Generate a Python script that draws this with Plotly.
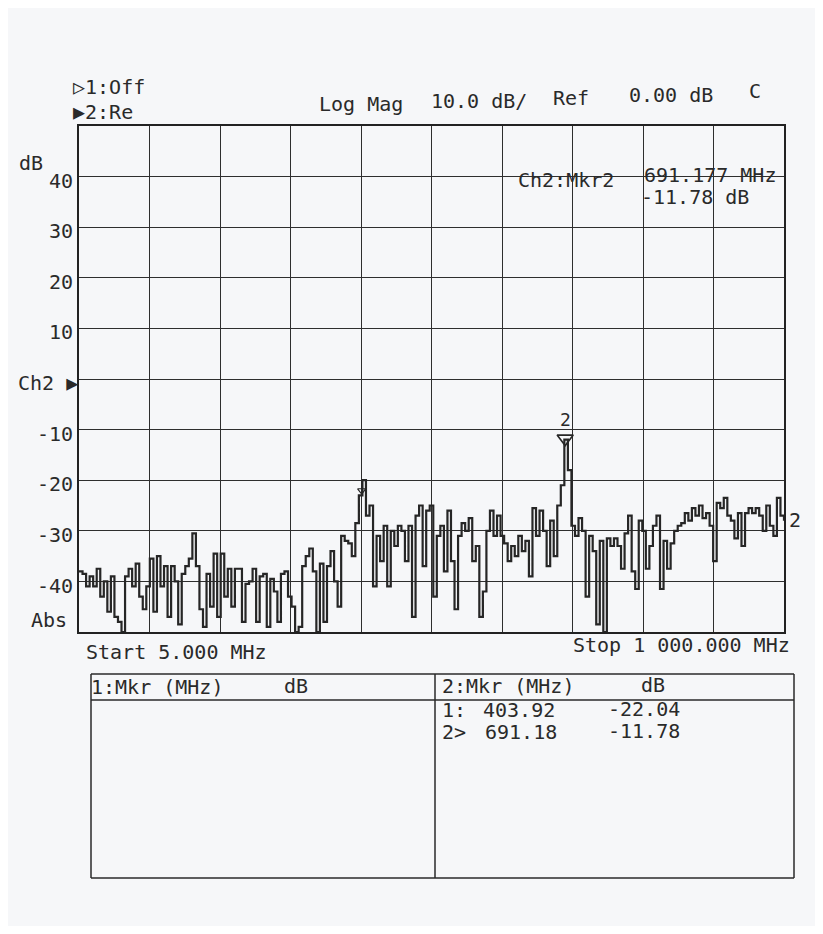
import numpy as np
import plotly.graph_objects as go

# ---------------- data ----------------
start_mhz = 5.0
stop_mhz = 1000.0
step_mhz = 5.0
freq_mhz = np.arange(start_mhz, stop_mhz + 0.1, step_mhz)

# trace values (dB), one list per grid division
div1 = [-38, -38.5, -41, -39, -41, -37.5, -43, -40, -46, -39, -47, -48, -50, -39, -37.5, -41, -36.5, -43, -45.5, -41]
div2 = [-35.5, -46, -35, -41, -37, -47, -37, -40, -48.5, -38.5, -37, -35.5, -30.5, -37, -45.5, -49, -38.5, -45, -34.5, -47]
div3 = [-34.5, -43, -37.5, -45, -37.5, -37.5, -48, -40.5, -40, -37.5, -48, -39, -38.5, -49, -39.5, -42, -48, -38.5, -38, -43]
div4 = [-45, -50, -49, -37, -35, -33.5, -38, -50, -36.5, -48, -37, -34, -40, -45, -31, -32, -32.5, -35, -28.5, -23]
div5 = [-20, -27, -25, -41, -31, -36, -29, -41, -30, -33, -29, -30, -36, -29, -47, -27, -25, -37, -26, -25]
div6 = [-43, -31, -29, -38, -26, -36, -45.5, -31, -28.5, -30, -27.5, -36, -33, -47, -42, -30, -26, -31, -27, -31]
div7 = [-32.5, -36, -33, -35, -31, -34, -32, -39, -25.5, -31, -26, -30, -37, -28, -35, -25, -21, -12, -18, -29]
div8 = [-31, -27.5, -30, -43, -31, -34, -48.5, -32, -50, -31.5, -33, -31.5, -33, -37.5, -30.5, -27, -38, -41.5, -28, -30]
div9 = [-37.5, -33, -29, -27, -41.5, -32, -37.5, -32.5, -30, -29, -28.5, -26.5, -28, -25.5, -27, -25, -27.5, -26.5, -29, -36]
div10 = [-24.5, -25.5, -23.5, -27, -28, -31.5, -26.5, -33, -26.5, -25.5, -26.5, -25.5, -27, -30, -25, -29, -31, -23.5, -27, -28]
trace_db = div1 + div2 + div3 + div4 + div5 + div6 + div7 + div8 + div9 + div10
freq_mhz = freq_mhz[:len(trace_db)]

marker_freq = [403.92, 691.18]
marker_db = [-22.04, -11.78]
marker_names = ["1", "2"]

y_tick_vals = [40, 30, 20, 10, -10, -20, -30, -40]
y_tick_text = ["40", "30", "20", "10", "-10", "-20", "-30", "-40"]

# ---------------- layout helpers ----------------
# the page adds an 8 px body margin: screen pixel (x, y) -> figure pixel (x-8, y-8)
OFF = 8
W, H = 823 - 2 * OFF, 934 - 2 * OFF
L, R, T, B = 79, 784, 126, 632          # plot area in screen pixels
INK = "#2a2a2a"
FONT = "DejaVu Sans Mono"
PAPER = "#f6f7f9"


def px(x, y):
    return (x - L) / (R - L), (B - y) / (B - T)


annotations = []


def text(x, y, s, anchor="left", size=20):
    xp, yp = px(x, y)
    annotations.append(dict(
        x=xp, y=yp, xref="paper", yref="paper", text=s, showarrow=False,
        xanchor=anchor, yanchor="middle", borderpad=0,
        font=dict(family=FONT, size=size, color=INK),
    ))


fig = go.Figure()

fig.add_trace(go.Scatter(
    x=freq_mhz, y=trace_db, mode="lines",
    line=dict(color="#262626", width=2.2, shape="hv"), hoverinfo="skip", showlegend=False,
))

# marker 2 (active) and marker 1
fig.add_trace(go.Scatter(
    x=[marker_freq[1]], y=[marker_db[1]], mode="markers",
    marker=dict(symbol="triangle-down-open", size=14, color="#262626", line=dict(width=1.6, color="#262626")),
    hoverinfo="skip", showlegend=False,
))
fig.add_trace(go.Scatter(
    x=[marker_freq[0]], y=[marker_db[0]], mode="markers",
    marker=dict(symbol="triangle-down-open", size=7, color="#262626", line=dict(width=1.2, color="#262626")),
    hoverinfo="skip", showlegend=False,
))
annotations.append(dict(
    x=marker_freq[1], y=marker_db[1], xref="x", yref="y", text=marker_names[1],
    showarrow=False, yanchor="bottom", yshift=8, borderpad=0,
    font=dict(family=FONT, size=18, color=INK),
))

# header texts
text(72, 87, "▷1:Off")
text(72, 112, "▶2:Re")
text(318, 104, "Log Mag")
text(430, 101, "10.0 dB/")
text(552, 98, "Ref")
text(628, 95, "0.00 dB")
text(748, 91, "C")

# y labels
text(18, 163, "dB")
label_y_px = {40: 181, 30: 231, 20: 282, 10: 332, -10: 434, -20: 484, -30: 535, -40: 586}
for v, s in zip(y_tick_vals, y_tick_text):
    text(74, label_y_px[v], s, anchor="right")
text(79, 383, "Ch2 ▶", anchor="right")
text(68, 620, "Abs", anchor="right")

# marker readout
text(517, 180, "Ch2:Mkr2")
text(643, 175, "691.177 MHz")
text(640, 197, "-11.78 dB")

# trace end label
text(788, 520, "2")

# start / stop
text(85, 652, "Start 5.000 MHz")
text(572, 645, "Stop 1 000.000 MHz")

# marker table
tl, tr, tt, tb, tm, th = 91, 794, 674, 878, 435, 700
shapes = []
for (x0, y0, x1, y1) in [(tl, tt, tr, tt), (tl, tb, tr, tb), (tl, tt, tl, tb), (tr, tt, tr, tb),
                         (tm, tt, tm, tb), (tl, th, tr, th)]:
    a0, b0 = px(x0, y0)
    a1, b1 = px(x1, y1)
    shapes.append(dict(type="line", xref="paper", yref="paper", x0=a0, y0=b0, x1=a1, y1=b1,
                       line=dict(color=INK, width=1.5)))

text(90, 687, "1:Mkr (MHz)")
text(283, 686, "dB")
text(441, 686, "2:Mkr (MHz)")
text(640, 685, "dB")
text(441, 710, "1:")
text(482, 710, f"{marker_freq[0]:.2f}")
text(607, 709, f"{marker_db[0]:.2f}")
text(441, 732, "2>")
text(484, 732, f"{marker_freq[1]:.2f}")
text(607, 731, f"{marker_db[1]:.2f}")

axis_common = dict(showgrid=True, gridcolor="#2e2e2e", gridwidth=1.3, zeroline=False,
                   showline=True, mirror=True, linecolor="#222222", linewidth=1.6,
                   ticks="", showticklabels=False, fixedrange=True)

fig.update_layout(
    width=W, height=H,
    margin=dict(l=L - OFF, r=(W + OFF) - R, t=T - OFF, b=(H + OFF) - B, pad=0),
    paper_bgcolor=PAPER, plot_bgcolor=PAPER,
    xaxis=dict(range=[start_mhz, stop_mhz], tick0=start_mhz, dtick=(stop_mhz - start_mhz) / 10, **axis_common),
    yaxis=dict(range=[-50, 50], tick0=-50, dtick=10, **axis_common),
    annotations=annotations, shapes=shapes, showlegend=False,
)

fig.write_html("out.html")
